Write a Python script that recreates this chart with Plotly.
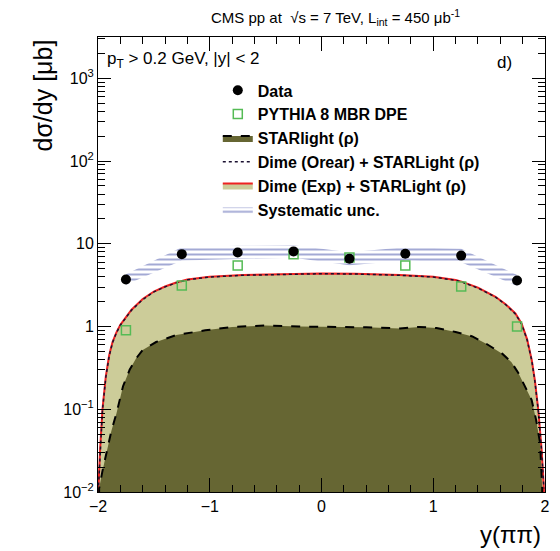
import plotly.graph_objects as go

# ---------------- data ----------------
y_bins = [-1.75, -1.25, -0.75, -0.25, 0.25, 0.75, 1.25, 1.75]
data_vals = [3.7, 7.5, 7.85, 8.1, 6.6, 7.6, 7.2, 3.6]
data_stat = [0.2, 0.3, 0.3, 0.3, 0.3, 0.3, 0.3, 0.2]
sys_hi = [0.6, 1.6, 1.6, 1.5, 1.3, 1.5, 1.5, 0.6]
sys_lo = [0.5, 1.2, 1.3, 1.3, 1.1, 1.3, 1.2, 0.5]
pythia_vals = [0.9, 3.13, 5.47, 7.5, 6.85, 5.47, 3.05, 1.0]

dime_exp_x = [-1.995, -1.98, -1.96, -1.93, -1.9, -1.87, -1.835, -1.8, -1.75, -1.7,
              -1.6, -1.5, -1.4, -1.3, -1.2, -1.0, -0.7, -0.3, 0.0, 0.3, 0.7, 1.0,
              1.2, 1.26, 1.4, 1.557, 1.65, 1.735, 1.79, 1.84, 1.882, 1.91, 1.94,
              1.97, 1.99]
dime_exp_y = [0.012, 0.035, 0.1, 0.25, 0.45, 0.65, 0.85, 1.05, 1.3, 1.6,
              2.15, 2.65, 3.05, 3.4, 3.7, 4.0, 4.2, 4.35, 4.38, 4.35, 4.2, 4.0,
              3.65, 3.47, 2.95, 2.29, 1.85, 1.44, 1.09, 0.7, 0.39, 0.22, 0.098,
              0.032, 0.011]

dime_orear_x = [-1.995, -1.98, -1.96, -1.93, -1.9, -1.87, -1.835, -1.8, -1.75, -1.7,
                -1.6, -1.5, -1.4, -1.3, -1.2, -1.0, -0.7, -0.3, 0.0, 0.3, 0.7, 1.0,
                1.2, 1.26, 1.4, 1.557, 1.65, 1.735, 1.79, 1.84, 1.882, 1.91, 1.94,
                1.97, 1.99]
dime_orear_y = [0.012, 0.034, 0.098, 0.245, 0.44, 0.64, 0.84, 1.04, 1.28, 1.58,
                2.12, 2.62, 3.02, 3.37, 3.67, 3.97, 4.17, 4.32, 4.35, 4.32, 4.17, 3.97,
                3.62, 3.44, 2.92, 2.27, 1.83, 1.42, 1.08, 0.69, 0.385, 0.215, 0.096,
                0.031, 0.011]

starlight_x = [-1.99, -1.96, -1.92, -1.88, -1.835, -1.776, -1.717, -1.66, -1.6, -1.48,
               -1.3, -1.04, -0.8, -0.5, -0.2, 0.14, 0.4, 0.7, 0.876, 1.03, 1.2, 1.35,
               1.47, 1.617, 1.7, 1.764, 1.82, 1.88, 1.92, 1.956, 1.975]
starlight_y = [0.011, 0.018, 0.032, 0.055, 0.089, 0.19, 0.3, 0.41, 0.52, 0.65,
               0.79, 0.9, 0.99, 1.03, 1.0, 0.99, 0.98, 0.95, 0.99, 0.96, 0.86, 0.76,
               0.625, 0.47, 0.37, 0.27, 0.19, 0.13, 0.075, 0.039, 0.011]

y_tickvals = [0.01, 0.1, 1, 10, 100, 1000]
y_ticktext = ["10<sup>−2</sup>", "10<sup>−1</sup>", "1", "10", "10<sup>2</sup>", "10<sup>3</sup>"]

FLOOR = 1e-4
FONT = "Liberation Sans"
X_RANGE = [-2, 2]
Y_RANGE = [-2, 3.5]

fig = go.Figure()

# Dime (Exp) + STARlight filled region
fig.add_trace(go.Scatter(
    x=[dime_exp_x[0]] + dime_exp_x + [dime_exp_x[-1]],
    y=[FLOOR] + dime_exp_y + [FLOOR],
    mode="lines", fill="toself", fillcolor="#cccc99",
    line=dict(color="#ee2222", width=2),
    name="Dime (Exp) + STARLight (ρ)", legendrank=5,
))

# STARlight
fig.add_trace(go.Scatter(
    x=[starlight_x[0]] + starlight_x + [starlight_x[-1]],
    y=[FLOOR] + starlight_y + [FLOOR],
    mode="lines", fill="toself", fillcolor="#666633",
    line=dict(color="black", width=2, dash="dash"),
    name="STARlight (ρ)", legendrank=3,
))

# Dime (Orear) + STARlight
fig.add_trace(go.Scatter(
    x=dime_orear_x, y=dime_orear_y, mode="lines",
    line=dict(color="#1a1030", width=1.5, dash="3px,3px"),
    name="Dime (Orear) + STARLight (ρ)", legendrank=4,
))

# Systematic band
band_x = y_bins + y_bins[::-1]
band_y = [v + h for v, h in zip(data_vals, sys_hi)] + [v - l for v, l in zip(data_vals, sys_lo)][::-1]
fig.add_trace(go.Scatter(
    x=band_x, y=band_y, mode="lines", fill="toself",
    fillcolor="rgba(0,0,0,0)", line=dict(width=0, color="rgba(0,0,0,0)"),
    fillpattern=dict(shape="-", fgcolor="#4854aa", bgcolor="rgba(0,0,0,0)", size=5, solidity=0.4),
    name="Systematic unc.", legendrank=6,
))

# PYTHIA
fig.add_trace(go.Scatter(
    x=y_bins, y=pythia_vals, mode="markers",
    marker=dict(symbol="square-open", size=9, color="#55bb55", line=dict(width=1.5)),
    name="PYTHIA 8 MBR DPE", legendrank=2,
))

# Data
fig.add_trace(go.Scatter(
    x=y_bins, y=data_vals, mode="markers",
    marker=dict(symbol="circle", size=10, color="black"),
    error_y=dict(type="data", array=data_stat, color="#2030a0", thickness=1.5, width=0),
    name="Data", legendrank=1,
))

# empty trace to activate the mirrored (top/right) axes
fig.add_trace(go.Scatter(x=[], y=[], xaxis="x2", yaxis="y2", showlegend=False, hoverinfo="skip"))

axis_common = dict(
    showline=True, linecolor="black", linewidth=1,
    ticks="inside", tickcolor="black", showgrid=False, zeroline=False,
    tickfont=dict(family=FONT, size=16, color="black"),
)

x_minor = dict(ticks="inside", dtick=0.2, ticklen=7, tickcolor="black", showgrid=False)
y_minor = dict(ticks="inside", dtick="D1", ticklen=7, tickcolor="black", showgrid=False)

fig.update_layout(
    xaxis=dict(range=X_RANGE, dtick=1, tick0=0, ticklen=14, minor=x_minor, mirror=True, **axis_common),
    yaxis=dict(type="log", range=Y_RANGE, tickvals=y_tickvals, ticktext=y_ticktext,
               ticklen=13, minor=y_minor, mirror=True, **axis_common),
    xaxis2=dict(range=X_RANGE, dtick=1, tick0=0, ticklen=14, minor=x_minor,
                overlaying="x", side="top", showticklabels=False, anchor="y",
                **axis_common),
    yaxis2=dict(type="log", range=Y_RANGE, tickvals=y_tickvals, ticklen=13, minor=y_minor,
                overlaying="y", side="right", showticklabels=False, anchor="x",
                **axis_common),
)

fig.update_layout(
    width=560, height=551,
    margin=dict(l=98, r=10, t=37, b=59),
    plot_bgcolor="white", paper_bgcolor="white",
    font=dict(family=FONT, color="black"),
    showlegend=True,
    legend=dict(
        x=0.268, y=0.92, xanchor="left", yanchor="top",
        bgcolor="rgba(0,0,0,0)", borderwidth=0,
        font=dict(family=FONT, size=16, color="black", weight="bold"),
        tracegroupgap=0,
    ),
    annotations=[
        dict(text="CMS pp at  √s = 7 TeV, L<sub>int</sub> = 450 μb<sup>-1</sup>",
             xref="paper", yref="paper", x=0.531, y=1.042, xanchor="center", yanchor="middle",
             showarrow=False, font=dict(family=FONT, size=15)),
        dict(text="p<sub>T</sub> > 0.2 GeV, |y| < 2",
             xref="paper", yref="paper", x=0.0155, y=0.949, xanchor="left", yanchor="middle",
             showarrow=False, font=dict(family=FONT, size=17)),
        dict(text="d)", xref="paper", yref="paper", x=0.889, y=0.943,
             xanchor="left", yanchor="middle", showarrow=False, font=dict(family=FONT, size=17)),
        dict(text="dσ/dy [μb]", xref="paper", yref="paper", x=-0.124, y=0.998,
             xanchor="center", yanchor="top", textangle=-90, showarrow=False,
             font=dict(family=FONT, size=25)),
        dict(text="y(ππ)", xref="paper", yref="paper", x=0.9956, y=-0.0945,
             xanchor="right", yanchor="middle", showarrow=False, font=dict(family=FONT, size=24)),
    ],
)

fig.write_html("out.html")
